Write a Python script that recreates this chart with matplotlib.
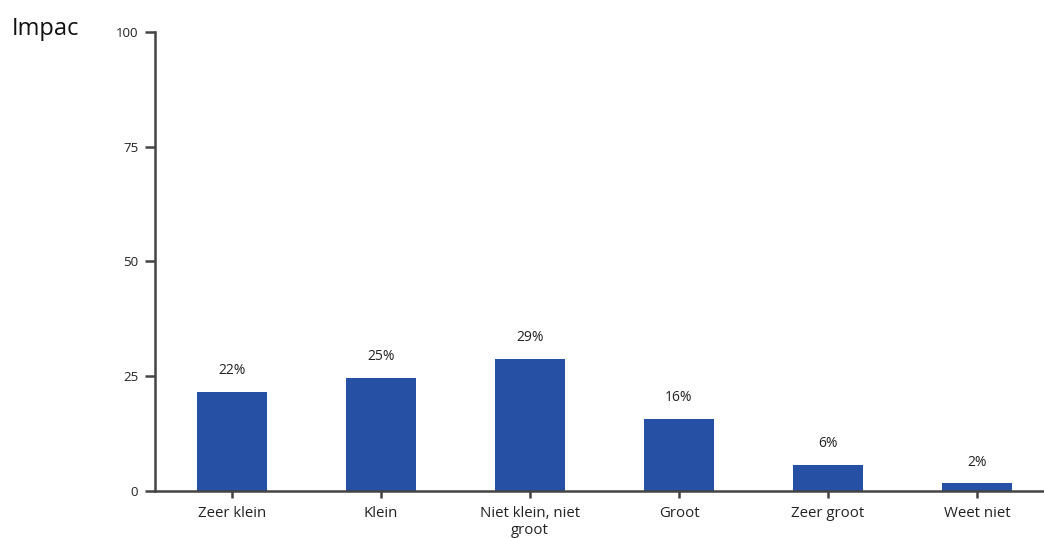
import matplotlib
matplotlib.use("Agg")
import matplotlib.pyplot as plt

categories = ["Zeer klein", "Klein", "Niet klein, niet\ngroot", "Groot", "Zeer groot", "Weet niet"]
values = [21.6, 24.6, 28.8, 15.7, 5.7, 1.7]
labels = ["22%", "25%", "29%", "16%", "6%", "2%"]
yticks = [0, 25, 50, 75, 100]

plt.rcParams['font.family'] = ['Open Sans', 'DejaVu Sans']

fig = plt.figure(figsize=(10.44, 5.38), dpi=100)
ax = fig.add_axes([0.1485, 0.0874, 0.8515, 0.8532])

x = list(range(len(categories)))
bars = ax.bar(x, values, width=0.47, color="#2550a3", zorder=2)
for xi, v, lab in zip(x, values, labels):
    ax.text(xi, v + 4.6, lab, ha="center", va="center", fontsize=10, color="#222222")

ax.set_xlim(-0.517, 5.45)
ax.set_ylim(0, 100)
ax.set_yticks(yticks)
ax.set_xticks(x)
ax.set_xticklabels(categories, fontsize=10.8, color="#222222", linespacing=1.15)
ax.tick_params(axis="y", labelsize=9.5, length=7, width=1.8, color="#444444", pad=5, labelcolor="#222222")
ax.tick_params(axis="x", length=5, width=1.8, color="#444444", pad=6)

for s in ["top", "right"]:
    ax.spines[s].set_visible(False)
for s in ["left", "bottom"]:
    ax.spines[s].set_color("#444444")
    ax.spines[s].set_linewidth(1.8)

fig.text(12 / 1044, 1 - 29 / 538, "Impac", fontsize=17, ha="left", va="center", color="#111111")

fig.savefig("out.png", dpi=100)
